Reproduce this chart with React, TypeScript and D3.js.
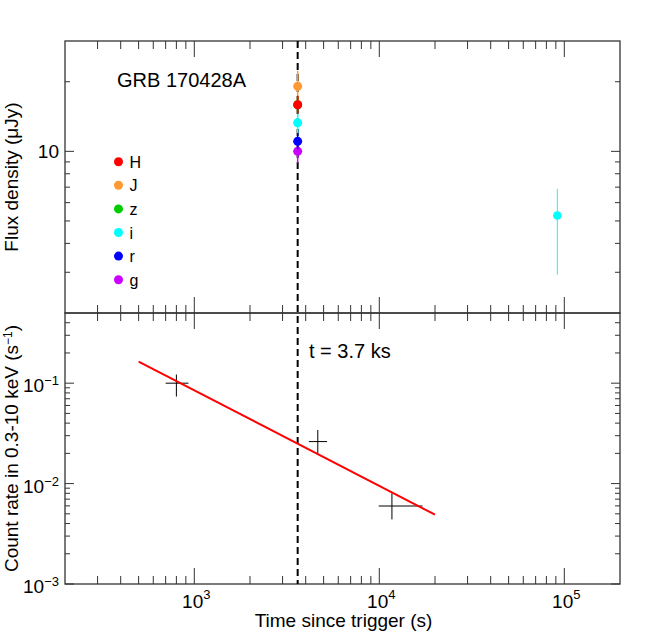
import React from "react";
import * as d3 from "d3";

// optical / NIR photometry (legend order)
const optBands = ["H", "J", "z", "i", "r", "g"];
const optColors = ["#ff0000", "#ff9933", "#00cc00", "#00ffff", "#0000ff", "#cc00ff"];
const optTime = [3620, 3620, 3620, 3620, 3620, 3620];
const optFlux = [15.9, 19.1, 15.9, 13.3, 11.05, 10.0];
const optLo = [14.5, 16.5, 14.7, 12.0, 10.2, 8.9];
const optHi = [17.4, 22.3, 17.2, 14.6, 12.0, 11.2];

// late i-band point
const lateTime = [91700];
const lateFlux = [5.28];
const lateLo = [2.93];
const lateHi = [6.88];

// XRT count rates
const xrtTime = [800, 4650, 11700];
const xrtTimeLo = [700, 4160, 9930];
const xrtTimeHi = [930, 5220, 17120];
const xrtRate = [0.1, 0.0262, 0.00598];
const xrtRateLo = [0.0736, 0.0197, 0.0044];
const xrtRateHi = [0.122, 0.0342, 0.008];

// power-law fit
const fitTime = [500, 20000];
const fitRate = [0.164, 0.0049];

const tMark = 3620;

const xMajor = [1e3, 1e4, 1e5];
const xMajorExp = ["3", "4", "5"];
const topMajor = [10];
const botMajor = [1e-3, 1e-2, 1e-1];
const botMajorExp = ["\u22123", "\u22122", "\u22121"];

const FONT = "'Liberation Sans', Arial, Helvetica, sans-serif";
const AX = "#333";

const L = 65, R = 620, T = 41, M = 313, B = 584;

const x = d3.scaleLog().domain([200, 2e5]).range([L, R]);
const yTop = d3.scaleLog().domain([2, 30]).range([M, T]);
const yBot = d3.scaleLog().domain([1e-3, 0.5]).range([B, M]);

const minorOf = (lo: number, hi: number) => {
  const out: number[] = [];
  for (let e = Math.floor(Math.log10(lo)); e <= Math.ceil(Math.log10(hi)); e++) {
    for (let k = 2; k <= 9; k++) {
      const v = k * Math.pow(10, e);
      if (v > lo * 1.0001 && v < hi * 0.9999) out.push(v);
    }
  }
  return out;
};

const xMinor = minorOf(200, 2e5);
const topMinor = minorOf(2, 30);
const botMinor = minorOf(1e-3, 0.5);

function XTicks({ y0, dir }: { y0: number; dir: number }) {
  return (
    <g stroke={AX} strokeWidth={1}>
      {xMinor.map((v, i) => (
        <line key={"m" + i} x1={x(v)} x2={x(v)} y1={y0} y2={y0 + dir * 8} />
      ))}
      {xMajor.map((v, i) => (
        <line key={"M" + i} x1={x(v)} x2={x(v)} y1={y0} y2={y0 + dir * 16} />
      ))}
    </g>
  );
}

function YTicks({ scale, minor, major }: { scale: any; minor: number[]; major: number[] }) {
  return (
    <g stroke={AX} strokeWidth={1}>
      {minor.map((v, i) => (
        <g key={"m" + i}>
          <line x1={L} x2={L + 5} y1={scale(v)} y2={scale(v)} />
          <line x1={R} x2={R - 5} y1={scale(v)} y2={scale(v)} />
        </g>
      ))}
      {major.map((v, i) => (
        <g key={"M" + i}>
          <line x1={L} x2={L + 9} y1={scale(v)} y2={scale(v)} />
          <line x1={R} x2={R - 9} y1={scale(v)} y2={scale(v)} />
        </g>
      ))}
    </g>
  );
}

export default function App() {
  const fitLine = d3
    .line<number>()
    .x((d, i) => x(fitTime[i]))
    .y((d) => yBot(d));

  // z is hidden under H in the original, so draw from the end of the list
  const drawOrder = [5, 4, 3, 2, 1, 0];

  return (
    <div style={{ position: "fixed", left: 0, top: 0 }}>
      <svg width={648} height={640} style={{ display: "block", background: "#fff" }} fontFamily={FONT}>
        <rect x={0} y={0} width={648} height={640} fill="#fff" />

        {/* ticks */}
        <XTicks y0={T} dir={1} />
        <XTicks y0={M} dir={-1} />
        <XTicks y0={M} dir={1} />
        <XTicks y0={B} dir={-1} />
        <YTicks scale={yTop} minor={topMinor} major={topMajor} />
        <YTicks scale={yBot} minor={botMinor} major={botMajor} />

        {/* frames */}
        <rect x={L} y={T} width={R - L} height={M - T} fill="none" stroke={AX} strokeWidth={1.3} />
        <rect x={L} y={M} width={R - L} height={B - M} fill="none" stroke={AX} strokeWidth={1.3} />

        {/* tick labels */}
        {topMajor.map((v, i) => (
          <text key={"tl" + i} x={L - 6} y={yTop(v) + 7} fontSize={19} textAnchor="end">
            {String(v)}
          </text>
        ))}
        {botMajor.map((v, i) => (
          <text key={"bl" + i} x={L - 6} y={yBot(v) + 9} fontSize={19} textAnchor="end">
            10
            <tspan fontSize={13} dy={-7}>
              {botMajorExp[i]}
            </tspan>
          </text>
        ))}
        {xMajor.map((v, i) => (
          <text key={"xl" + i} x={x(v) + 2} y={B + 24} fontSize={19} textAnchor="middle">
            10
            <tspan fontSize={13} dy={-9}>
              {xMajorExp[i]}
            </tspan>
          </text>
        ))}

        {/* axis titles */}
        <text x={(L + R) / 2 + 1} y={627} fontSize={19} textAnchor="middle">
          Time since trigger (s)
        </text>
        <text
          transform={`translate(17.5,${(T + M) / 2}) rotate(-90)`}
          fontSize={19}
          textAnchor="middle"
        >
          Flux density (μJy)
        </text>
        <text
          transform={`translate(17.5,${(M + B) / 2}) rotate(-90)`}
          fontSize={19}
          textAnchor="middle"
        >
          Count rate in 0.3-10 keV (s
          <tspan fontSize={12} dy={-6}>
            {"\u22121"}
          </tspan>
          <tspan dy={6}>)</tspan>
        </text>

        {/* epoch marker */}
        <line x1={x(tMark)} x2={x(tMark)} y1={T} y2={B} stroke="#000" strokeWidth={2} strokeDasharray="7,4" />
        <text x={309} y={357.7} fontSize={20}>
          t = 3.7 ks
        </text>

        {/* top panel */}
        <text x={117} y={86.7} fontSize={20}>
          GRB 170428A
        </text>
        {optBands.map((b, i) => (
          <g key={"lg" + b}>
            <circle cx={118.5} cy={161.7 + i * 23.6} r={4.5} fill={optColors[i]} />
            <text x={129.5} y={161.7 + i * 23.6 + 6} fontSize={16}>
              {b}
            </text>
          </g>
        ))}
        {drawOrder.map((i) => (
          <g key={"op" + i}>
            <line
              x1={x(optTime[i])}
              x2={x(optTime[i])}
              y1={yTop(optLo[i])}
              y2={yTop(optHi[i])}
              stroke={optColors[i]}
              strokeWidth={1.5}
            />
            <circle cx={x(optTime[i])} cy={yTop(optFlux[i])} r={4.5} fill={optColors[i]} />
          </g>
        ))}
        {lateTime.map((t, i) => (
          <g key={"late" + i}>
            <line x1={x(t)} x2={x(t)} y1={yTop(lateLo[i])} y2={yTop(lateHi[i])} stroke="#00ffff" strokeWidth={1} />
            <circle cx={x(t)} cy={yTop(lateFlux[i])} r={4.3} fill="#00ffff" />
          </g>
        ))}

        {/* bottom panel */}
        {xrtTime.map((t, i) => (
          <g key={"xrt" + i} stroke="#000" strokeWidth={1}>
            <line x1={x(xrtTimeLo[i])} x2={x(xrtTimeHi[i])} y1={yBot(xrtRate[i])} y2={yBot(xrtRate[i])} />
            <line x1={x(t)} x2={x(t)} y1={yBot(xrtRateLo[i])} y2={yBot(xrtRateHi[i])} />
          </g>
        ))}
        <path d={fitLine(fitRate) || ""} fill="none" stroke="#ff0000" strokeWidth={2} />
      </svg>
    </div>
  );
}
